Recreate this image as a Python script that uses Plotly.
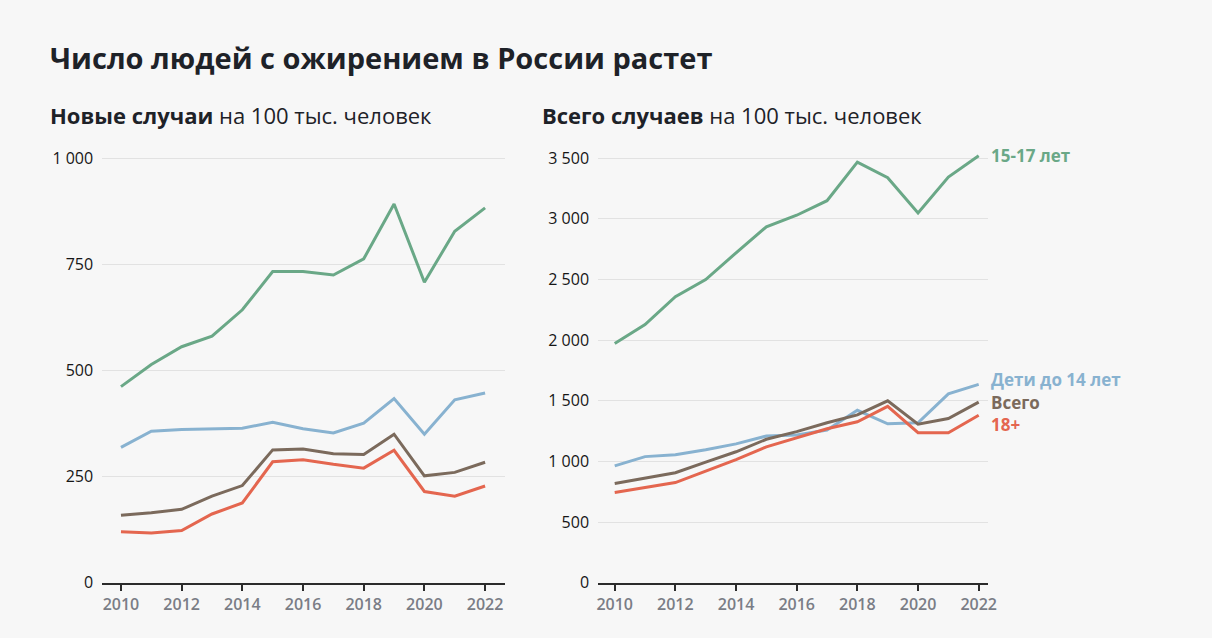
import plotly.graph_objects as go

years = list(range(2010, 2023))

# Новые случаи на 100 тыс. человек
new_teen = [462, 514, 556, 581, 643, 733, 733, 725, 763, 892, 708, 828, 883]
new_kids = [319, 357, 361, 363, 364, 378, 363, 353, 376, 434, 350, 431, 447]
new_total = [159, 165, 173, 204, 229, 313, 315, 304, 302, 350, 252, 260, 284]
new_adult = [120, 117, 123, 162, 188, 285, 290, 279, 270, 312, 215, 204, 228]

# Всего случаев на 100 тыс. человек
all_teen = [1973, 2129, 2358, 2500, 2720, 2935, 3030, 3150, 3468, 3339, 3048, 3344, 3521]
all_kids = [964, 1040, 1056, 1097, 1145, 1210, 1219, 1259, 1422, 1311, 1319, 1557, 1636]
all_total = [818, 864, 907, 994, 1080, 1183, 1246, 1319, 1384, 1500, 1308, 1354, 1489]
all_adult = [745, 783, 826, 921, 1015, 1121, 1197, 1270, 1327, 1454, 1237, 1237, 1381]

series_names = ["15-17 лет", "Дети до 14 лет", "Всего", "18+"]
colors = ["#6aa887", "#88b2d0", "#7b6a5c", "#e4664f"]

left_ticks = [0, 250, 500, 750, 1000]
left_ticktext = ["0", "250", "500", "750", "1 000"]
right_ticks = [0, 500, 1000, 1500, 2000, 2500, 3000, 3500]
right_ticktext = ["0", "500", "1 000", "1 500", "2 000", "2 500", "3 000", "3 500"]

FONT = "Open Sans"
BG = "#f7f7f7"

fig = go.Figure()

left_sets = [new_teen, new_kids, new_total, new_adult]
right_sets = [all_teen, all_kids, all_total, all_adult]

for vals, name, col in zip(left_sets, series_names, colors):
    fig.add_trace(go.Scatter(x=years, y=vals, mode="lines", name=name,
                             line=dict(color=col, width=3), xaxis="x", yaxis="y",
                             showlegend=False))
for vals, name, col in zip(right_sets, series_names, colors):
    fig.add_trace(go.Scatter(x=years, y=vals, mode="lines", name=name,
                             line=dict(color=col, width=3), xaxis="x2", yaxis="y2",
                             showlegend=False))

W, H = 1212, 638
y_dom = [1 - 593 / H, 1 - 150 / H]

xaxis_common = dict(
    tickvals=list(range(2010, 2023, 2)), showgrid=False, zeroline=False,
    showline=True, linecolor="#2b2b2b", linewidth=1.5,
    ticks="outside", ticklen=6, tickwidth=1.5, tickcolor="#2b2b2b",
    tickfont=dict(family=FONT, size=16, color="#7a7d86", weight=600),
    fixedrange=True,
)
yaxis_common = dict(
    showgrid=True, gridcolor="#e2e2e2", gridwidth=1, zeroline=False,
    showline=False, ticks="", ticklabelstandoff=8,
    tickfont=dict(family=FONT, size=16, color="#161616", weight=500),
    fixedrange=True,
)

fig.update_layout(
    width=W, height=H, autosize=False,
    paper_bgcolor=BG, plot_bgcolor=BG,
    margin=dict(l=0, r=0, t=0, b=0),
    xaxis=dict(domain=[102 / W, 508 / W], range=[2009.38, 2022.65], **xaxis_common),
    yaxis=dict(domain=y_dom, range=[0, 1000 * 443 / 432],
               tickvals=left_ticks, ticktext=left_ticktext, **yaxis_common),
    xaxis2=dict(domain=[602 / W, 995 / W], range=[2009.45, 2022.3], anchor="y2",
                **xaxis_common),
    yaxis2=dict(domain=y_dom, range=[0, 3500 * 443 / 432], anchor="x2",
                tickvals=right_ticks, ticktext=right_ticktext, **yaxis_common),
)

annotations = [
    dict(text="<b>Число людей с ожирением в России растет</b>", x=47 / W, y=1 - 58 / H,
         xref="paper", yref="paper", xanchor="left", yanchor="middle", showarrow=False,
         font=dict(family=FONT, size=29, color="#1e2228")),
    dict(text="<b>Новые случаи</b> на 100 тыс. человек", x=47 / W, y=1 - 117 / H,
         xref="paper", yref="paper", xanchor="left", yanchor="middle", showarrow=False,
         font=dict(family=FONT, size=22, color="#1e2228")),
    dict(text="<b>Всего случаев</b> на 100 тыс. человек", x=543 / W, y=1 - 117 / H,
         xref="paper", yref="paper", xanchor="left", yanchor="middle", showarrow=False,
         font=dict(family=FONT, size=22, color="#1e2228")),
]

# small vertical nudges so the end labels do not collide
label_shift = [0, 5, 0, -9]
for vals, name, col, sh in zip(right_sets, series_names, colors, label_shift):
    annotations.append(dict(
        text="<b>" + name + "</b>", x=years[-1], y=vals[-1], xref="x2", yref="y2",
        xanchor="left", yanchor="middle", xshift=10, yshift=sh, showarrow=False,
        font=dict(family=FONT, size=17, color=col)))

fig.update_layout(annotations=annotations)

fig.write_html("out.html", config={"displayModeBar": False, "responsive": False},
               post_script="document.documentElement.style.overflow='hidden';"
                           "document.body.style.overflow='hidden';"
                           "document.body.style.margin='0';"
                           "document.body.style.background='" + BG + "';")
